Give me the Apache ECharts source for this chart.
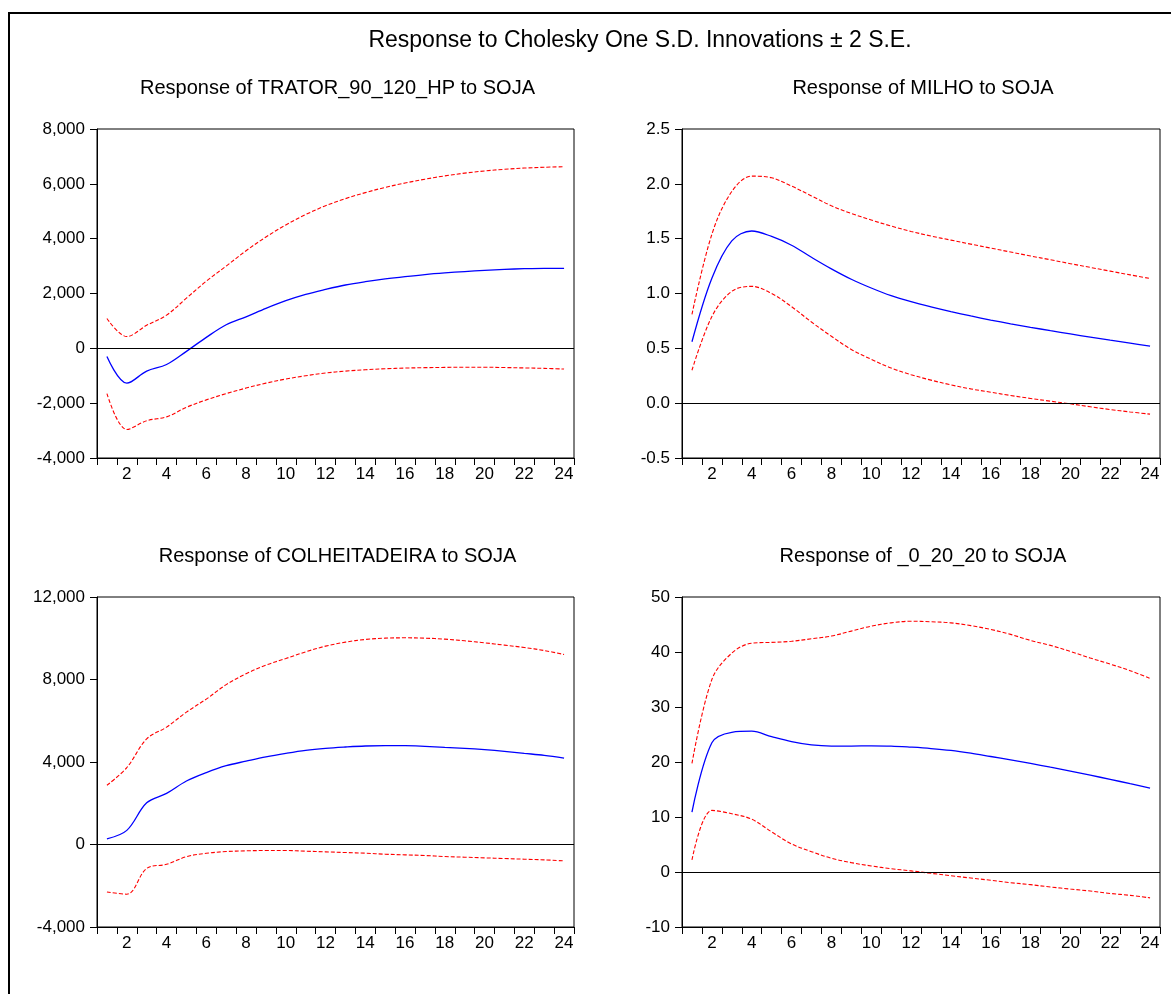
<!DOCTYPE html>
<html>
<head>
<meta charset="utf-8">
<script src="https://cdn.jsdelivr.net/npm/echarts@6/dist/echarts.min.js"></script>
<style>
  html, body { margin: 0; padding: 0; background: #fff; }
  #chart { width: 1171px; height: 994px; }
</style>
</head>
<body>
<div id="chart"></div>
<script>
// periods 1..24
const periods = ['1','2','3','4','5','6','7','8','9','10','11','12','13','14','15','16','17','18','19','20','21','22','23','24'];

// Response of TRATOR_90_120_HP to SOJA
const tratorResp = [-300, -1270, -830, -590, -110, 400, 860, 1150, 1460, 1740, 1970, 2150, 2310, 2430, 2530, 2615, 2690, 2750, 2800, 2845, 2880, 2905, 2918, 2918];
const tratorUpper = [1090, 430, 840, 1210, 1830, 2450, 3000, 3560, 4060, 4500, 4880, 5200, 5460, 5680, 5870, 6030, 6170, 6290, 6390, 6470, 6530, 6575, 6605, 6625];
const tratorLower = [-1650, -2960, -2640, -2500, -2150, -1880, -1650, -1450, -1270, -1120, -1000, -900, -830, -780, -745, -720, -705, -695, -690, -690, -700, -715, -730, -755];

// Response of MILHO to SOJA
const milhoResp = [0.56, 1.14, 1.48, 1.57, 1.52, 1.44, 1.33, 1.225, 1.13, 1.05, 0.98, 0.925, 0.878, 0.835, 0.795, 0.758, 0.724, 0.692, 0.661, 0.631, 0.602, 0.574, 0.547, 0.52];
const milhoUpper = [0.81, 1.54, 1.93, 2.07, 2.055, 1.98, 1.89, 1.80, 1.73, 1.67, 1.615, 1.566, 1.524, 1.487, 1.45, 1.414, 1.378, 1.342, 1.308, 1.272, 1.238, 1.204, 1.17, 1.137];
const milhoLower = [0.30, 0.79, 1.02, 1.065, 1.0, 0.88, 0.74, 0.61, 0.49, 0.40, 0.32, 0.26, 0.21, 0.167, 0.13, 0.10, 0.07, 0.043, 0.018, -0.006, -0.033, -0.058, -0.08, -0.10];

// Response of COLHEITADEIRA to SOJA
const colheitResp = [277, 685, 2020, 2480, 3080, 3490, 3820, 4040, 4250, 4420, 4566, 4663, 4727, 4776, 4792, 4792, 4760, 4711, 4663, 4598, 4517, 4420, 4323, 4193];
const colheitUpper = [2870, 3730, 5120, 5690, 6420, 7050, 7750, 8280, 8694, 9018, 9342, 9617, 9811, 9941, 10005, 10021, 10005, 9957, 9876, 9779, 9665, 9552, 9406, 9212];
const colheitLower = [-2300, -2410, -1160, -960, -590, -424, -342, -307, -291, -291, -324, -356, -389, -421, -470, -502, -534, -583, -615, -648, -680, -712, -745, -793];

// Response of _0_20_20 to SOJA
const v02020Resp = [10.9, 23.5, 25.4, 25.6, 24.6, 23.7, 23.1, 22.9, 22.9, 22.95, 22.9, 22.7, 22.45, 22.1, 21.6, 21.0, 20.4, 19.75, 19.05, 18.35, 17.6, 16.85, 16.05, 15.25];
const v02020Upper = [19.75, 35.0, 39.8, 41.6, 41.75, 41.95, 42.4, 42.9, 43.8, 44.7, 45.3, 45.6, 45.5, 45.3, 44.8, 44.1, 43.2, 42.1, 41.2, 40.1, 38.9, 37.8, 36.6, 35.2];
const v02020Lower = [2.2, 11.2, 10.6, 9.6, 7.3, 5.1, 3.7, 2.5, 1.7, 1.1, 0.6, 0.2, -0.24, -0.67, -1.1, -1.5, -1.94, -2.3, -2.73, -3.1, -3.46, -3.9, -4.25, -4.7];

const FONT = '"Liberation Sans", Arial, sans-serif';

const panels = [
  { title: 'Response of TRATOR_90_120_HP to SOJA', resp: tratorResp, up: tratorUpper, lo: tratorLower,
    min: -4000, max: 8000, interval: 2000, fmt: v => v.toLocaleString('en-US'),
    grid: { left: 97, top: 129, width: 477, height: 329 } },
  { title: 'Response of MILHO to SOJA', resp: milhoResp, up: milhoUpper, lo: milhoLower,
    min: -0.5, max: 2.5, interval: 0.5, fmt: v => v.toFixed(1),
    grid: { left: 682, top: 129, width: 478, height: 329 } },
  { title: 'Response of COLHEITADEIRA to SOJA', resp: colheitResp, up: colheitUpper, lo: colheitLower,
    min: -4000, max: 12000, interval: 4000, fmt: v => v.toLocaleString('en-US'),
    grid: { left: 97, top: 597, width: 477, height: 330 } },
  { title: 'Response of _0_20_20 to SOJA', resp: v02020Resp, up: v02020Upper, lo: v02020Lower,
    min: -10, max: 50, interval: 10, fmt: v => String(v),
    grid: { left: 682, top: 597, width: 478, height: 330 } },
];

const chart = echarts.init(document.getElementById('chart'));

const titles = [{
  text: 'Response to Cholesky One S.D. Innovations \u00b1 2 S.E.',
  left: 640, top: 29, textAlign: 'center', padding: 0,
  textStyle: { fontFamily: FONT, fontSize: 23, fontWeight: 'normal', color: '#000' }
}];
const grids = [], xAxes = [], yAxes = [], series = [];

panels.forEach((p, i) => {
  titles.push({
    text: p.title,
    left: p.grid.left + p.grid.width / 2 + 2, top: p.grid.top - 51, textAlign: 'center', padding: 0,
    textStyle: { fontFamily: FONT, fontSize: 20, fontWeight: 'normal', color: '#000' }
  });
  grids.push(Object.assign({ show: true, borderColor: '#000', borderWidth: 1, backgroundColor: 'transparent' }, p.grid));
  xAxes.push({
    type: 'category', gridIndex: i, data: periods, boundaryGap: true,
    axisLine: { onZero: false, lineStyle: { color: '#000', width: 1 } },
    axisTick: { show: true, interval: 0, length: 7, lineStyle: { color: '#000' } },
    axisLabel: { interval: (idx) => idx % 2 === 1, color: '#000', fontFamily: FONT, fontSize: 17, margin: 8 },
    splitLine: { show: false }
  });
  yAxes.push({
    type: 'value', gridIndex: i, min: p.min, max: p.max, interval: p.interval,
    axisLine: { show: true, onZero: false, lineStyle: { color: '#000', width: 1 } },
    axisTick: { show: true, length: 7, lineStyle: { color: '#000' } },
    axisLabel: { color: '#000', fontFamily: FONT, fontSize: 17, margin: 12, formatter: p.fmt },
    splitLine: { show: false }
  });
  series.push({
    type: 'line', xAxisIndex: i, yAxisIndex: i, data: p.resp, smooth: 0.35,
    showSymbol: false, symbol: 'none', lineStyle: { color: '#0000ff', width: 1.3 },
    markLine: {
      silent: true, symbol: 'none', label: { show: false },
      lineStyle: { color: '#000', width: 1, type: 'solid' },
      data: [{ yAxis: 0 }]
    },
    z: 3
  });
  [p.up, p.lo].forEach(band => {
    series.push({
      type: 'line', xAxisIndex: i, yAxisIndex: i, data: band, smooth: 0.35,
      showSymbol: false, symbol: 'none',
      lineStyle: { color: '#ff0000', width: 1.1, type: [4, 2] },
      z: 2
    });
  });
});

chart.setOption({
  backgroundColor: '#fff',
  animation: false,
  title: titles,
  grid: grids,
  xAxis: xAxes,
  yAxis: yAxes,
  series: series,
  graphic: [{
    type: 'rect', silent: true, z: 10,
    shape: { x: 9, y: 13, width: 1300, height: 1200 },
    style: { fill: 'none', stroke: '#000', lineWidth: 2 }
  }]
});
</script>
</body>
</html>
